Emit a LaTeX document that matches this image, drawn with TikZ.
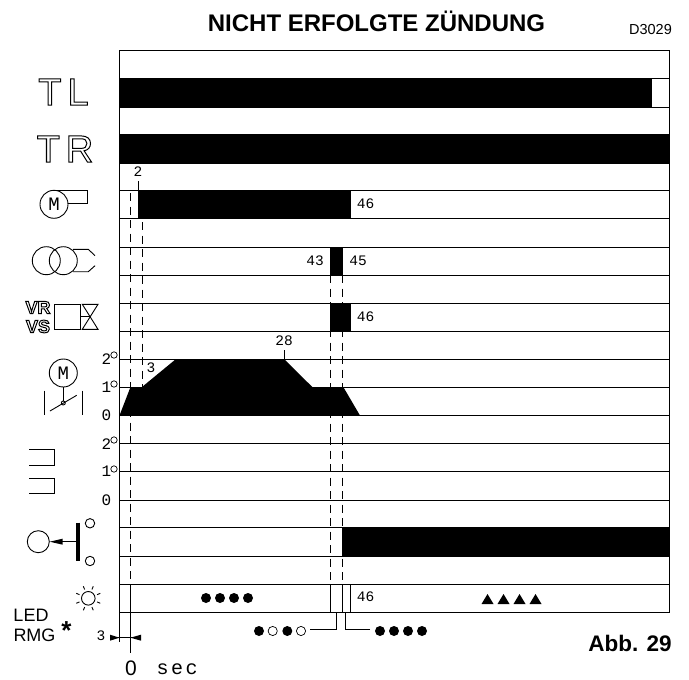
\documentclass[tikz,border=0pt]{standalone}
\usepackage{fontspec}
\setmainfont{Liberation Sans}
\newfontfamily\plotfont{Liberation Mono}
\usetikzlibrary{arrows.meta}
\newcommand{\hollowtext}[1]{\special{pdf:code 1 Tr 1 w}#1}

\tikzset{
  rowline/.style={line width=0.9pt},
  marker/.style={line width=0.8pt, dash pattern=on 8pt off 5.5pt},
  plotlabel/.style={font=\plotfont\fontsize{14.5}{16}\selectfont, inner sep=0pt},
  icon/.style={line width=0.9pt},
  bigletter/.style={font=\fontsize{38}{40}\selectfont, inner sep=0pt},
  smallletter/.style={font=\bfseries\fontsize{18}{20}\selectfont, inner sep=0pt}
}

\begin{document}
\begin{tikzpicture}[x=1pt,y=-1pt]
\useasboundingbox (0,0) rectangle (689,680);

\node[font=\bfseries\fontsize{24}{28}\selectfont, inner sep=0pt] (title) at (376.5,21) {NICHT ERFOLGTE ZÜNDUNG};
\node[font=\fontsize{14.5}{16}\selectfont, inner sep=0pt] (drawingno) at (650.5,30) {D3029};

% row lines
\foreach \y in {50,78,107,134,163,190,218,247,275,303,331,359,387,415.5,443.5,471.5,500,527.5,556,584,612.5}
  \draw[rowline] (119.5,\y) -- (669.5,\y);
\draw[rowline] (119.5,50) -- (119.5,641.5);
\draw[rowline] (669.5,50) -- (669.5,612.5);

% markers
\draw[marker] (130.5,193) -- (130.5,584);
\draw[marker] (142,222) -- (142,387);
\draw[marker] (330.7,275) -- (330.7,584);
\draw[marker] (342.5,275) -- (342.5,584);
\draw[rowline] (130.5,584) -- (130.5,653);
\draw[rowline] (330.7,584) -- (330.7,612.5);
\draw[rowline] (342.5,584) -- (342.5,612.5);
\draw[rowline] (350.5,584) -- (350.5,612.5);

% bars
\fill (119.5,78) rectangle (652,107);
\fill (119.5,134) rectangle (669.5,163);
\fill (138,190) rectangle (350.5,218);
\fill (330.2,247) rectangle (342.9,275);
\fill (330.2,303) rectangle (350.5,331);
\fill (342,527.5) rectangle (669.5,556);
\fill (119.5,415.5) -- (130.5,387) -- (142,387) -- (176,359) -- (284,359) -- (312.3,387) -- (343.3,387) -- (360,415.5) -- cycle;

\draw[rowline] (138,181) -- (138,190);
\draw[rowline] (284,350) -- (284,359);

% times
\node[plotlabel] (t2) at (138,172) {2};
\node[plotlabel] (t46a) at (365.5,204) {46};
\node[plotlabel] (t43) at (315,261) {43};
\node[plotlabel] (t45) at (358,261) {45};
\node[plotlabel] (t46b) at (365.5,317) {46};
\node[plotlabel] (t28) at (284,341) {28};
\node[plotlabel] (t3) at (151,368) {3};
\node[plotlabel] (t46c) at (365.5,597) {46};

% steps
\foreach \y/\t/\n in {359/2/a,387/1/b,415.5/0/c,444/2/d,471.5/1/e,500/0/f}
  \node[plotlabel, font=\plotfont\fontsize{16}{18}\selectfont] (step\n) at (106.5,\y) {\t};
\foreach \y in {355,384,440,469}
  \draw[line width=0.7pt] (114,\y) circle (3.2);

% TL and TR
\node[bigletter] (tl) at (63.5,92) {\hollowtext{T\hspace{6pt}L}};
\node[bigletter] (tr) at (65,149) {\hollowtext{T\hspace{6pt}R}};

% horn motor
\draw[icon] (54,204.3) circle (14);
\draw[icon] (54.3,190) -- (87.3,190) -- (87.3,203.7) -- (68,203.7);
\node[plotlabel, font=\plotfont\fontsize{19}{21}\selectfont] (hornm) at (54,204.3) {M};

% transformer
\draw[icon] (46.3,260.7) circle (14);
\draw[icon] (63.3,260.7) circle (14);
\draw[icon] (73,249.3) -- (88.3,249.3) -- (95,255.7);
\draw[icon] (73,271.7) -- (88.3,271.7) -- (95,265.7);

% valve
\node[smallletter] (vr) at (38,307.5) {\hollowtext{VR}};
\node[smallletter] (vs) at (38,326.5) {\hollowtext{VS}};
\draw[icon] (54.3,304.3) rectangle (80,329.3);
\draw[icon] (80,316.7) -- (90.3,316.7);
\draw[icon] (82.3,304.3) -- (98,304.3) -- (82.3,329.3) -- (98,329.3) -- cycle;

% throttle motor
\draw[icon] (63.3,373) circle (14);
\node[plotlabel, font=\plotfont\fontsize{19}{21}\selectfont] (throttlem) at (63.3,373) {M};
\draw[icon] (63.3,387) -- (63.3,401);
\draw[icon] (63.3,403) circle (2);
\draw[icon] (50,411) -- (76.7,395.3);
\draw[icon] (44.7,390.7) -- (44.7,415);
\draw[icon] (82.3,390.7) -- (82.3,415);

% brackets
\draw[icon] (29.3,449.3) -- (54.3,449.3) -- (54.3,465) -- (29.3,465);
\draw[icon] (29.3,478.3) -- (54.3,478.3) -- (54.3,493.3) -- (29.3,493.3);

% lever
\draw[icon] (38.3,541.7) circle (11);
\fill (49.7,541.7) -- (62.7,538.7) -- (62.7,544.7) -- cycle;
\draw[icon] (62,541.7) -- (77,541.7);
\draw[line width=4pt] (77.7,522.7) -- (77.7,560.7);
\draw[icon] (90,523.3) circle (4.7);
\draw[icon] (90,561) circle (4.7);

% lamp
\draw[icon] (88.3,598.3) circle (6.8);
\foreach \a in {22.5,67.5,...,337.5}
  \draw[icon] (88.3,598.3) ++(\a:9.5) -- ++(\a:3.5);

\node[font=\fontsize{18}{20}\selectfont, inner sep=0pt] (led) at (31,615) {LED};
\node[font=\fontsize{18}{20}\selectfont, inner sep=0pt] (rmg) at (34.5,635) {RMG};
\node[font=\bfseries\fontsize{26}{28}\selectfont, inner sep=0pt] (star) at (66.5,631) {*};

% blink codes
\foreach \x in {206,220,234,248}
  \fill (\x,598) circle (5);
\foreach \x in {487.5,503.5,519.5,535.5}
  \fill (\x-6,604) -- (\x+6,604) -- (\x,594) -- cycle;
\foreach \x in {259,287.3}
  \fill (\x,631) circle (5);
\foreach \x in {272.7,301}
  \draw[line width=0.7pt] (\x,631) circle (4.6);
\foreach \x in {380,394,408,422}
  \fill (\x,631) circle (5);
\draw[rowline] (310,629) -- (336.7,629) -- (336.7,612.5);
\draw[rowline] (370,629) -- (345.7,629) -- (345.7,612.5);

% delay
\node[plotlabel] (delay) at (101,636) {3};
\draw[rowline] (110,637.7) -- (141,637.7);
\fill (119.5,637.7) -- (110,634.7) -- (110,640.7) -- cycle;
\fill (130.5,637.7) -- (141,634.7) -- (141,640.7) -- cycle;

% axis
\node[font=\fontsize{21}{23}\selectfont, inner sep=0pt] (zero) at (131,668.5) {0};
\node[plotlabel, font=\plotfont\fontsize{20}{22}\selectfont, anchor=west] (sec) at (156.5,669) {s\hspace{2.5pt}e\hspace{2.5pt}c};

\node[font=\bfseries\fontsize{22.5}{26}\selectfont, inner sep=0pt] (figno) at (630,643) {Abb. 29};
\end{tikzpicture}
\end{document}
